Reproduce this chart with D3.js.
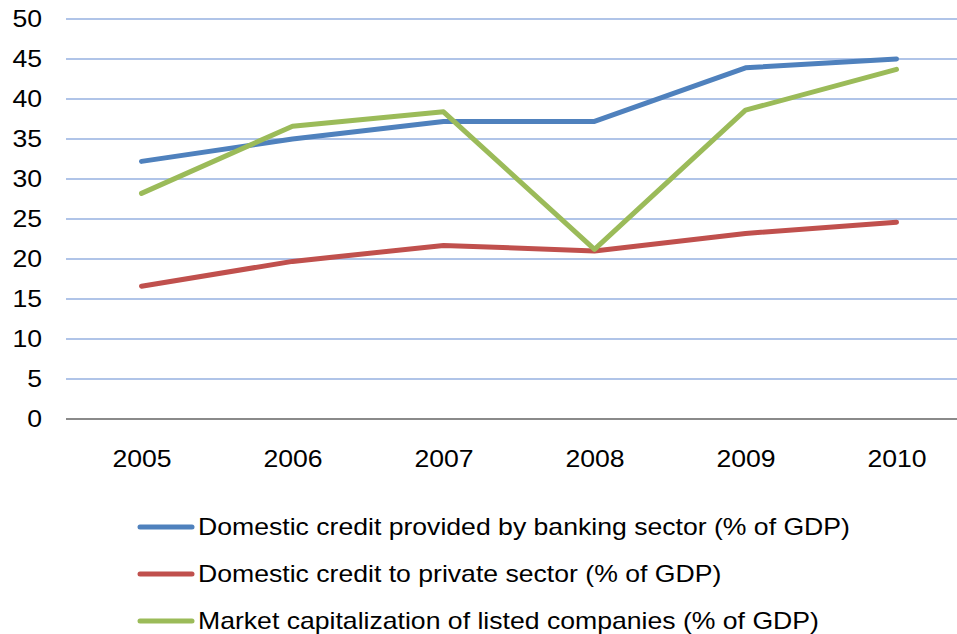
<!DOCTYPE html>
<html>
<head>
<meta charset="utf-8">
<script src="https://cdn.jsdelivr.net/npm/d3@7/dist/d3.min.js"></script>
<style>
  html, body { margin: 0; padding: 0; background: #fff; }
  svg { display: block; font-family: Arial, "Liberation Sans", sans-serif; }
</style>
</head>
<body>
<svg id="chart" width="957" height="634"></svg>
<script>
// Financial depth indicators, % of GDP, 2005–2010
const years = ["2005", "2006", "2007", "2008", "2009", "2010"];
const bankingCredit = [32.2, 35.0, 37.2, 37.2, 43.9, 45.0];
const privateCredit = [16.6, 19.7, 21.7, 21.0, 23.2, 24.6];
const marketCap = [28.2, 36.6, 38.4, 21.2, 38.6, 43.7];
const yTicks = [0, 5, 10, 15, 20, 25, 30, 35, 40, 45, 50];

const series = [
  { name: "Domestic credit provided by banking sector (% of GDP)", values: bankingCredit, color: "#4F81BD" },
  { name: "Domestic credit to private sector (% of GDP)", values: privateCredit, color: "#C0504D" },
  { name: "Market capitalization of listed companies (% of GDP)", values: marketCap, color: "#9BBB59" }
];

const svg = d3.select("#chart");
const plotLeft = 66, plotRight = 972, plotTop = 19, plotBottom = 419;
const FONT_SIZE = 23;
const WIDEN = 1.157; // labels are set in a slightly widened face

const x = d3.scalePoint().domain(years).range([plotLeft, plotRight]).padding(0.5);
const y = d3.scaleLinear().domain([0, 50]).range([plotBottom, plotTop]);

// widen a text element horizontally about its anchor point
function widen(sel) {
  sel.each(function () {
    const t = d3.select(this);
    const tx = +t.attr("x") || 0;
    t.attr("x", 0).attr("transform", `translate(${tx},0) scale(${WIDEN},1)`);
  });
}

// horizontal gridlines
svg.append("g")
  .selectAll("line")
  .data(yTicks.filter(t => t > 0))
  .join("line")
  .attr("x1", plotLeft).attr("x2", plotRight)
  .attr("y1", d => y(d)).attr("y2", d => y(d))
  .attr("stroke", "#B0C4E8")
  .attr("stroke-width", 2);

// category axis (baseline)
const xAxis = svg.append("g")
  .attr("transform", `translate(0,${plotBottom})`)
  .call(d3.axisBottom(x).tickSize(0).tickPadding(32));
xAxis.select(".domain").attr("stroke", "#8A8A8A").attr("stroke-width", 2)
  .attr("d", `M${plotLeft},0H${plotRight}`);
xAxis.selectAll("text").attr("font-size", FONT_SIZE).attr("fill", "#000")
  .attr("font-family", "Arial, 'Liberation Sans', sans-serif")
  .call(widen);

// value axis labels
const yAxis = svg.append("g")
  .attr("transform", `translate(${plotLeft},0)`)
  .call(d3.axisLeft(y).tickValues(yTicks).tickSize(0).tickPadding(24));
yAxis.select(".domain").remove();
yAxis.selectAll("text").attr("font-size", FONT_SIZE).attr("fill", "#000")
  .attr("font-family", "Arial, 'Liberation Sans', sans-serif")
  .call(widen);

// series lines
const line = d3.line()
  .x((d, i) => x(years[i]))
  .y(d => y(d));

svg.append("g")
  .selectAll("path")
  .data(series)
  .join("path")
  .attr("d", d => line(d.values))
  .attr("fill", "none")
  .attr("stroke", d => d.color)
  .attr("stroke-width", 5)
  .attr("stroke-linejoin", "round")
  .attr("stroke-linecap", "round");

// legend
const legend = svg.append("g")
  .selectAll("g")
  .data(series)
  .join("g")
  .attr("transform", (d, i) => `translate(0,${527 + i * 47})`);

legend.append("line")
  .attr("x1", 140).attr("x2", 192)
  .attr("y1", 0).attr("y2", 0)
  .attr("stroke", d => d.color)
  .attr("stroke-width", 5)
  .attr("stroke-linecap", "round");

legend.append("text")
  .attr("x", 198)
  .attr("y", 8)
  .attr("font-size", FONT_SIZE)
  .attr("fill", "#000")
  .text(d => d.name)
  .call(widen);
</script>
</body>
</html>
